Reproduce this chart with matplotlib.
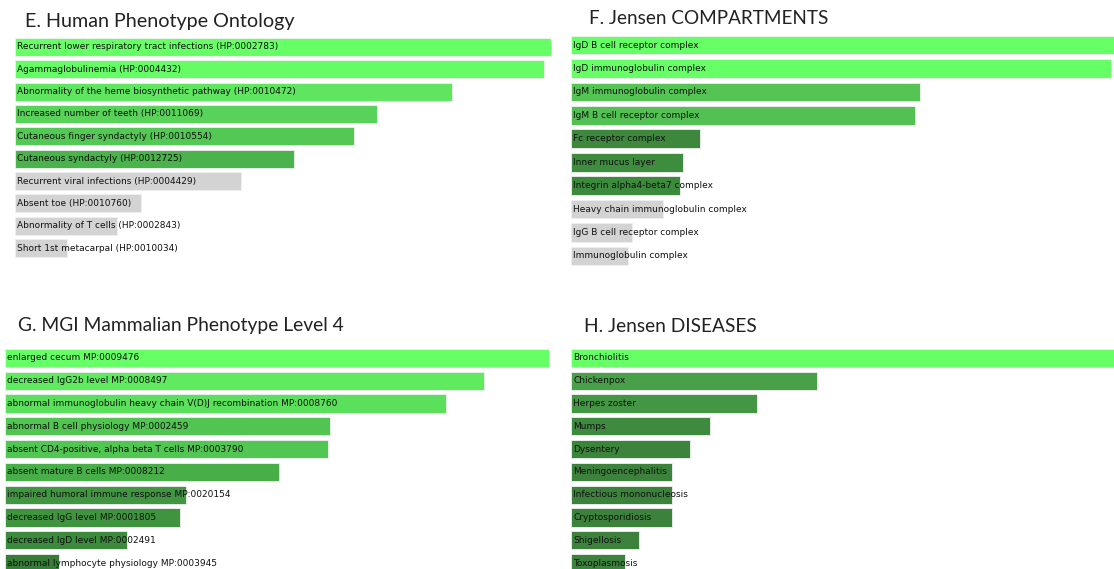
import matplotlib
matplotlib.use("Agg")
import matplotlib.pyplot as plt
from matplotlib import transforms

# ---- E. Human Phenotype Ontology ----
hpo_terms = [
    "Recurrent lower respiratory tract infections (HP:0002783)",
    "Agammaglobulinemia (HP:0004432)",
    "Abnormality of the heme biosynthetic pathway (HP:0010472)",
    "Increased number of teeth (HP:0011069)",
    "Cutaneous finger syndactyly (HP:0010554)",
    "Cutaneous syndactyly (HP:0012725)",
    "Recurrent viral infections (HP:0004429)",
    "Absent toe (HP:0010760)",
    "Abnormality of T cells (HP:0002843)",
    "Short 1st metacarpal (HP:0010034)",
]
hpo_scores = [6.00, 5.92, 4.89, 4.05, 3.79, 3.12, 2.53, 1.41, 1.14, 0.58]
hpo_colors = ["#66FF66", "#65FC65", "#5FE55F", "#58D258", "#54C854", "#4BB34B",
              "#D3D3D3", "#D3D3D3", "#D3D3D3", "#D3D3D3"]

# ---- F. Jensen COMPARTMENTS ----
comp_terms = [
    "IgD B cell receptor complex",
    "IgD immunoglobulin complex",
    "IgM immunoglobulin complex",
    "IgM B cell receptor complex",
    "Fc receptor complex",
    "Inner mucus layer",
    "Integrin alpha4-beta7 complex",
    "Heavy chain immunoglobulin complex",
    "IgG B cell receptor complex",
    "Immunoglobulin complex",
]
comp_scores = [8.00, 7.96, 5.14, 5.07, 1.90, 1.65, 1.61, 1.36, 0.90, 0.84]
comp_colors = ["#66FF66", "#66FF66", "#55C455", "#53C053", "#3D883D", "#3E8C3E",
               "#3C8A3C", "#D3D3D3", "#D3D3D3", "#D3D3D3"]

# ---- G. MGI Mammalian Phenotype Level 4 ----
mgi_terms = [
    "enlarged cecum MP:0009476",
    "decreased IgG2b level MP:0008497",
    "abnormal immunoglobulin heavy chain V(D)J recombination MP:0008760",
    "abnormal B cell physiology MP:0002459",
    "absent CD4-positive, alpha beta T cells MP:0003790",
    "absent mature B cells MP:0008212",
    "impaired humoral immune response MP:0020154",
    "decreased IgG level MP:0001805",
    "decreased IgD level MP:0002491",
    "abnormal lymphocyte physiology MP:0003945",
]
mgi_scores = [7.00, 6.16, 5.67, 4.18, 4.16, 3.53, 2.33, 2.25, 1.57, 0.70]
mgi_colors = ["#66FF66", "#5FEA5F", "#5AE05A", "#51C451", "#52C652", "#48AF48",
              "#419641", "#409440", "#3C8A3C", "#377D37"]

# ---- H. Jensen DISEASES ----
dis_terms = [
    "Bronchiolitis", "Chickenpox", "Herpes zoster", "Mumps", "Dysentery",
    "Meningoencephalitis", "Infectious mononucleosis", "Cryptosporidiosis",
    "Shigellosis", "Toxoplasmosis",
]
dis_scores = [9.00, 4.08, 3.08, 2.30, 1.97, 1.67, 1.67, 1.67, 1.13, 0.90]
dis_colors = ["#66FF66", "#48A048", "#449544", "#3E8A3E", "#3C843C", "#3C823C",
              "#3C823C", "#3C823C", "#3C823C", "#3C823C"]

W, H = 1114, 569
fig = plt.figure(figsize=(W / 100, H / 100), dpi=100)
fig.patch.set_facecolor("white")


def pixel_axes(x0, x1, ytop, ybot):
    return fig.add_axes([x0 / W, 1 - ybot / H, (x1 - x0) / W, (ybot - ytop) / H])


def bar_panel(title, terms, scores, colors, x0, x1, ytop, ybot, xmax, tx, ty, tsize):
    ax = pixel_axes(x0, x1, ytop, ybot)
    n = len(terms)
    ypos = list(range(n))
    ax.barh(ypos, scores, height=0.8, color=colors,
            edgecolor="#F0F0F0", linewidth=0.6)
    ax.set_xlim(0, xmax)
    ax.set_ylim(n - 0.5, -0.5)
    ax.axis("off")
    off = transforms.offset_copy(ax.transData, fig=fig, x=2.0, y=0, units="dots")
    for i, t in enumerate(terms):
        ax.text(0, i, t, transform=off, ha="left", va="center",
                fontsize=6.45, color="#111111", family="DejaVu Sans")
    fig.text(tx / W, 1 - ty / H, title, ha="left", va="center",
             fontsize=tsize, family="Lato", fontweight="normal", color="#222222")
    return ax


bar_panel("E. Human Phenotype Ontology", hpo_terms, hpo_scores, hpo_colors,
          15, 551, 35.8, 259.2, hpo_scores[0], 25, 22, 14.2)
bar_panel("F. Jensen COMPARTMENTS", comp_terms, comp_scores, comp_colors,
          571, 1114, 33.3, 267.7, comp_scores[0], 589, 19, 13.6)
bar_panel("G. MGI Mammalian Phenotype Level 4", mgi_terms, mgi_scores, mgi_colors,
          5, 549, 346.6, 574.4, mgi_scores[0], 18, 326, 13.9)
bar_panel("H. Jensen DISEASES", dis_terms, dis_scores, dis_colors,
          571, 1114, 346.6, 574.4, dis_scores[0], 584, 326, 13.8)

fig.savefig("out.png", dpi=100, facecolor="white")
